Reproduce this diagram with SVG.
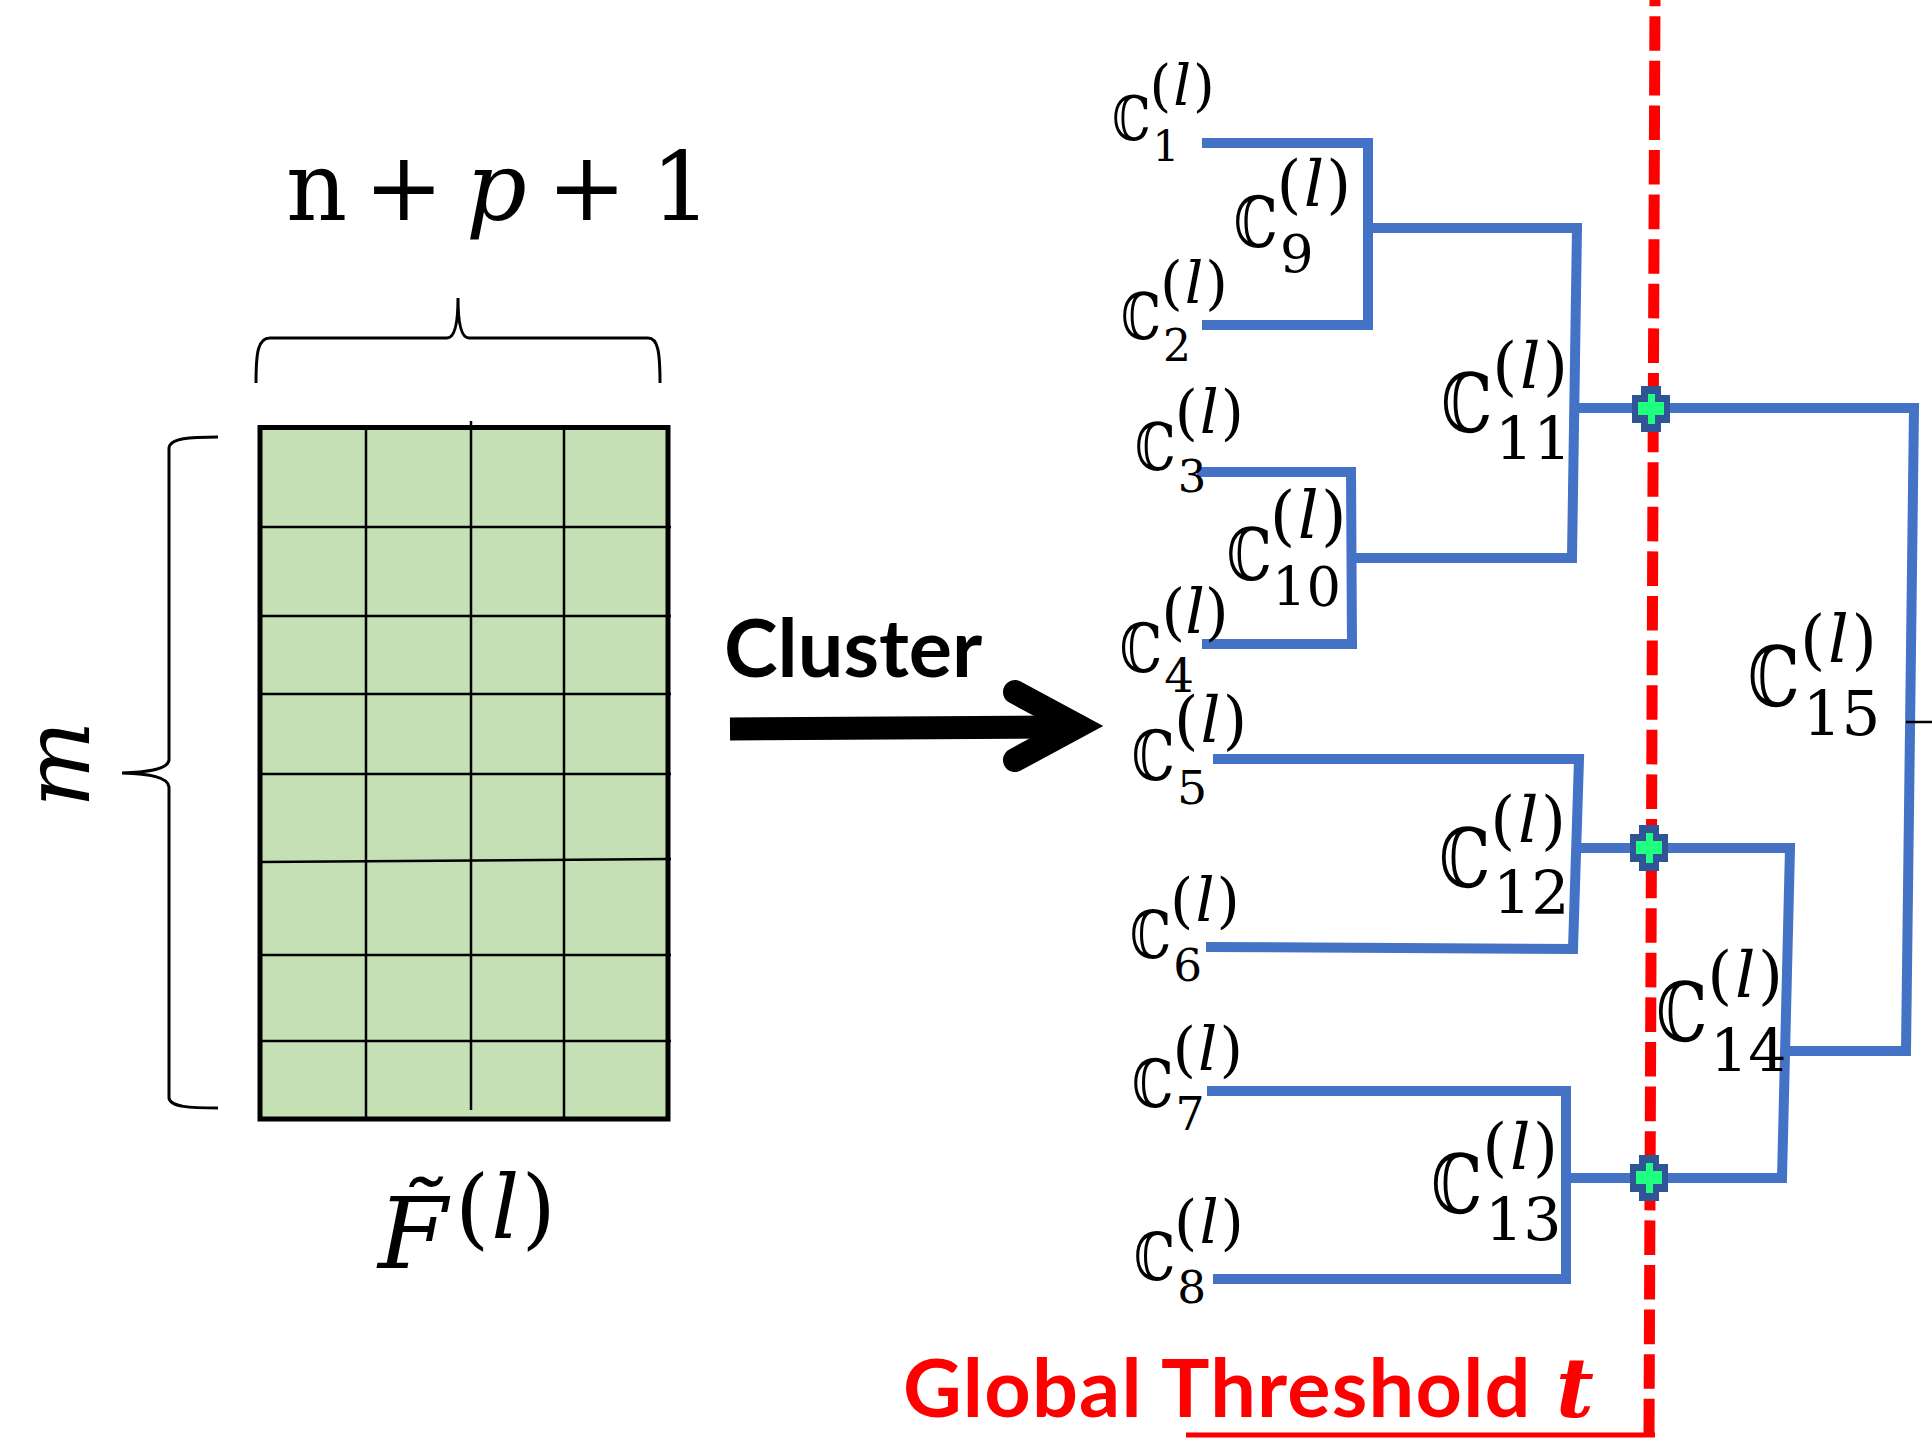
<svg xmlns="http://www.w3.org/2000/svg" width="1932" height="1438" viewBox="0 0 1932 1438">
<defs>
<style>
.m{font-family:"DejaVu Serif","Liberation Serif",serif;fill:#000}
.cc{font-size:50px}
.sup{font-size:58px}
.sub{font-size:44px}
.mid .sub{font-size:48px}
.big .sup{font-size:50px}
.big .sub{font-size:47px}
.it{font-style:italic}
.br{fill:none;stroke:#000;stroke-width:3}
.grid{stroke:#000;stroke-width:2.5}
.blue{fill:none;stroke:#4472C4;stroke-width:10;stroke-linejoin:miter}
.lbl{font-family:Lato,"Open Sans","Liberation Sans",sans-serif;font-weight:700;font-size:81px}
</style>
<g id="mk">
<path d="M-10,-23 H10 V-14 H19 V14 H10 V23 H-10 V14 H-19 V-14 H-10 Z" fill="#2F5597"/>
<path d="M-3,-15 H4 V-7 H13 V6 H4 V15 H-3 V6 H-13 V-7 H-3 Z" fill="#1FFF80"/>
</g>
</defs>
<rect width="1932" height="1438" fill="#fff"/>

<g id="matrix">
<rect x="260" y="427.5" width="408" height="691.5" fill="#C5E0B4" stroke="#000" stroke-width="5"/>
<line class="grid" x1="366" y1="427" x2="366" y2="1119"/>
<line class="grid" x1="471" y1="421" x2="471" y2="1110"/>
<line class="grid" x1="564" y1="427" x2="564" y2="1119"/>
<line class="grid" x1="260" y1="527" x2="671" y2="527"/>
<line class="grid" x1="260" y1="616" x2="671" y2="616"/>
<line class="grid" x1="260" y1="694" x2="671" y2="694"/>
<line class="grid" x1="260" y1="774" x2="671" y2="774"/>
<line class="grid" x1="260" y1="862" x2="671" y2="859"/>
<line class="grid" x1="260" y1="955" x2="671" y2="955"/>
<line class="grid" x1="260" y1="1041" x2="671" y2="1041"/>
</g>

<g id="braces">
<path class="br" d="M256,383 C256,352 258,338 270,338 L447,338 C455,338 458,322 458,298 C458,322 461,338 469,338 L648,338 C658,338 660,352 660,383"/>
<path class="br" d="M218,437 C190,437 170,438 169,448 L169,760 C168,769 150,772 122,773 C150,774 168,777 169,787 L169,1098 C170,1107 190,1108 218,1108"/>
</g>

<g id="math-left">
<text class="m" y="220" font-size="95"><tspan x="286">n</tspan> <tspan x="364">+</tspan> <tspan x="466" class="it">p</tspan> <tspan x="547">+</tspan> <tspan x="651">1</tspan></text>
<text class="m it" font-size="92" text-anchor="middle" transform="translate(89,764) rotate(-90)">m</text>
<text class="m" y="1268"><tspan x="378" font-size="100" class="it">F̃</tspan><tspan x="455" y="1238" font-size="88">(<tspan class="it" dx="2">l</tspan><tspan dx="2">)</tspan></tspan></text>
</g>

<g id="arrow">
<text class="lbl" x="724" y="677" fill="#000">Cluster</text>
<line x1="730" y1="729" x2="1060" y2="727" stroke="#000" stroke-width="23"/>
<polyline points="1015,692 1078,726 1015,760" fill="none" stroke="#000" stroke-width="24" stroke-linecap="round" stroke-linejoin="miter" stroke-miterlimit="10"/>
</g>

<g id="connectors">
<path class="blue" d="M1202,143 H1368 V325 H1202"/>
<path class="blue" d="M1368,228 H1577 L1572,558 H1352"/>
<path class="blue" d="M1197,472 H1351 L1352,644 H1202"/>
<path class="blue" d="M1575,408 H1914 L1906,1051 H1785"/>
<path class="blue" d="M1213,759 H1579 L1573,949 L1206,947"/>
<path class="blue" d="M1578,848 H1790 L1782,1178 H1566"/>
<path class="blue" d="M1207,1091 H1566 V1279 H1213"/>
<line x1="1906" y1="722" x2="1932" y2="722" stroke="#000" stroke-width="2.5"/>
</g>

<g id="threshold">
<line x1="1655" y1="0" x2="1649" y2="1435" stroke="#FF0000" stroke-width="11" stroke-dasharray="34.6 10" stroke-dashoffset="28.4"/>
<line x1="1186" y1="1435" x2="1655" y2="1435" stroke="#FF0000" stroke-width="5"/>
<text class="lbl" x="903" y="1417" fill="#FF0000" font-size="83" letter-spacing="1.2">Global Threshold <tspan x="1556" font-family="DejaVu Serif" font-style="italic" font-weight="700" font-size="82" letter-spacing="0">t</tspan></text>
</g>

<g id="markers">
<use href="#mk" x="1651" y="409"/>
<use href="#mk" x="1649" y="848"/>
<use href="#mk" x="1649" y="1178"/>
</g>

<g id="C1" class="leaf" transform="translate(1115,140) scale(0.96)"><text class="m cc" x="-3" transform="scale(1,1.28)">ℂ</text><text class="m"><tspan class="sup" x="36" y="-36">(<tspan class="it" dx="2">l</tspan><tspan dx="2">)</tspan></tspan><tspan class="sub" x="39" y="22">1</tspan></text></g>
<g id="C2" class="leaf" transform="translate(1124,339) scale(1)"><text class="m cc" x="-3" transform="scale(1,1.28)">ℂ</text><text class="m"><tspan class="sup" x="36" y="-36">(<tspan class="it" dx="2">l</tspan><tspan dx="2">)</tspan></tspan><tspan class="sub" x="39" y="22">2</tspan></text></g>
<g id="C3" class="leaf" transform="translate(1138,470) scale(1.02)"><text class="m cc" x="-3" transform="scale(1,1.28)">ℂ</text><text class="m"><tspan class="sup" x="36" y="-36">(<tspan class="it" dx="2">l</tspan><tspan dx="2">)</tspan></tspan><tspan class="sub" x="39" y="22">3</tspan></text></g>
<g id="C4" class="leaf" transform="translate(1123,672) scale(1.06)"><text class="m cc" x="-3" transform="scale(1,1.28)">ℂ</text><text class="m"><tspan class="sup" x="36" y="-37">(<tspan class="it">l</tspan>)</tspan><tspan class="sub" x="39" y="19">4</tspan></text></g>
<g id="C5" class="leaf" transform="translate(1135,780) scale(1.08)"><text class="m cc" x="-3" transform="scale(1,1.28)">ℂ</text><text class="m"><tspan class="sup" x="36" y="-35">(<tspan class="it" dx="2">l</tspan><tspan dx="2">)</tspan></tspan><tspan class="sub" x="39" y="22">5</tspan></text></g>
<g id="C6" class="leaf" transform="translate(1133,958) scale(1.03)"><text class="m cc" x="-3" transform="scale(1,1.28)">ℂ</text><text class="m"><tspan class="sup" x="36" y="-36">(<tspan class="it" dx="2">l</tspan><tspan dx="2">)</tspan></tspan><tspan class="sub" x="39" y="22">6</tspan></text></g>
<g id="C7" class="leaf" transform="translate(1135,1107) scale(1.04)"><text class="m cc" x="-3" transform="scale(1,1.28)">ℂ</text><text class="m"><tspan class="sup" x="36" y="-36">(<tspan class="it" dx="2">l</tspan><tspan dx="2">)</tspan></tspan><tspan class="sub" x="39" y="22">7</tspan></text></g>
<g id="C8" class="leaf" transform="translate(1137,1280) scale(1.03)"><text class="m cc" x="-3" transform="scale(1,1.28)">ℂ</text><text class="m"><tspan class="sup" x="36" y="-36">(<tspan class="it" dx="2">l</tspan><tspan dx="2">)</tspan></tspan><tspan class="sub" x="39" y="22">8</tspan></text></g>
<g id="C9" class="mid" transform="translate(1237,247) scale(1.1)"><text class="m cc" x="-3" transform="scale(1,1.28)">ℂ</text><text class="m"><tspan class="sup" x="36" y="-37">(<tspan class="it" dx="2">l</tspan><tspan dx="2">)</tspan></tspan><tspan class="sub" x="39" y="23">9</tspan></text></g>
<g id="C10" class="mid" transform="translate(1228,580) scale(1.13)"><text class="m cc" x="-1" transform="scale(1,1.28)">ℂ</text><text class="m"><tspan class="sup" x="37" y="-37">(<tspan class="it" dx="2">l</tspan><tspan dx="2">)</tspan></tspan><tspan class="sub" x="39" y="23">10</tspan></text></g>
<g id="C11" class="big" transform="translate(1445,432) scale(1.28)"><text class="m cc" x="-3" transform="scale(1,1.28)">ℂ</text><text class="m"><tspan class="sup" x="37" y="-34">(<tspan class="it" dx="2">l</tspan><tspan dx="2">)</tspan></tspan><tspan class="sub" x="39" y="22">11</tspan></text></g>
<g id="C12" class="big" transform="translate(1443,887) scale(1.28)"><text class="m cc" x="-3" transform="scale(1,1.28)">ℂ</text><text class="m"><tspan class="sup" x="37" y="-35">(<tspan class="it" dx="2">l</tspan><tspan dx="2">)</tspan></tspan><tspan class="sub" x="39" y="21">12</tspan></text></g>
<g id="C13" class="big" transform="translate(1435,1213) scale(1.28)"><text class="m cc" x="-3" transform="scale(1,1.28)">ℂ</text><text class="m"><tspan class="sup" x="37" y="-34">(<tspan class="it" dx="2">l</tspan><tspan dx="2">)</tspan></tspan><tspan class="sub" x="39" y="22">13</tspan></text></g>
<g id="C14" class="big" transform="translate(1660,1041) scale(1.28)"><text class="m cc" x="-3" transform="scale(1,1.28)">ℂ</text><text class="m"><tspan class="sup" x="37" y="-34">(<tspan class="it" dx="2">l</tspan><tspan dx="2">)</tspan></tspan><tspan class="sub" x="39" y="24">14</tspan></text></g>
<g id="C15" class="big" transform="translate(1752,706) scale(1.3)"><text class="m cc" x="-3" transform="scale(1,1.28)">ℂ</text><text class="m"><tspan class="sup" x="37" y="-34">(<tspan class="it" dx="2">l</tspan><tspan dx="2">)</tspan></tspan><tspan class="sub" x="39" y="22">15</tspan></text></g>
</svg>
